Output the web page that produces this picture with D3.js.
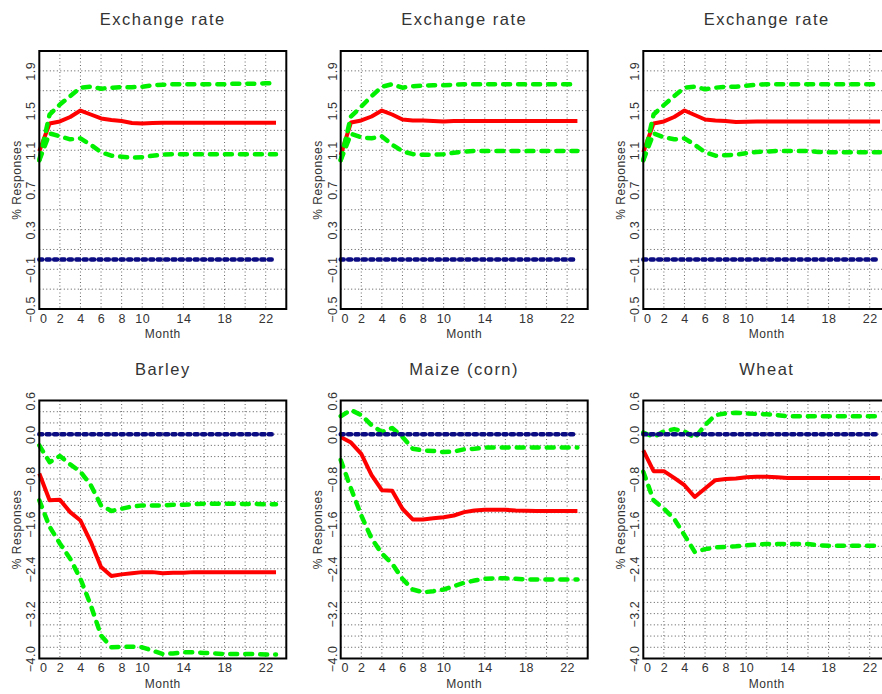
<!DOCTYPE html>
<html>
<head>
<meta charset="utf-8">
<script src="https://cdn.jsdelivr.net/npm/d3@7"></script>
<style>
body { margin: 0; background: #fff; }
text { font-family: "Liberation Sans", "DejaVu Sans", sans-serif; fill: #333; }
</style>
</head>
<body>
<svg id="vis"></svg>
<script>
const WIDTH = 882;
const HEIGHT = 694;

// meses (eje x) y etiquetas
const MONTHS = [0, 1, 2, 3, 4, 5, 6, 7, 8, 9, 10, 11, 12, 13, 14, 15, 16, 17, 18, 19, 20, 21, 22, 23];
const X_TICKS = [0, 2, 4, 6, 8, 10, 14, 18, 22];
const X_GRID = [2, 4, 6, 8, 10, 12, 14, 16, 18, 20, 22];

const Y_TICKS_TOP = [1.9, 1.5, 1.1, 0.7, 0.3, -0.1, -0.5];
const Y_GRID_TOP = [1.9, 1.7, 1.5, 1.3, 1.1, 0.9, 0.7, 0.5, 0.3, 0.1, -0.1, -0.3];
const Y_TICKS_BOTTOM = [0.6, 0.0, -0.8, -1.6, -2.4, -3.2, -4.0];
const Y_GRID_BOTTOM = [0.4, 0.2, 0.0, -0.2, -0.4, -0.6, -0.8, -1.0, -1.2, -1.4, -1.6, -1.8, -2.0,
    -2.2, -2.4, -2.6, -2.8, -3.0, -3.2, -3.4, -3.6, -3.8];

const TITLES = ["Exchange rate", "Exchange rate", "Exchange rate", "Barley", "Maize (corn)", "Wheat"];
const ZERO_LINE = [0, 0, 0, 0, 0, 0, 0, 0, 0, 0, 0, 0, 0, 0, 0, 0, 0, 0, 0, 0, 0, 0, 0, 0];

// Exchange rate (1)
const mid1 = [1.09, 1.37, 1.39, 1.435, 1.50, 1.46, 1.42, 1.405, 1.395, 1.375, 1.37, 1.375, 1.378, 1.378, 1.378, 1.378, 1.378, 1.378, 1.378, 1.378, 1.378, 1.378, 1.378, 1.378];
const hi1 = [1.00, 1.46, 1.56, 1.645, 1.73, 1.74, 1.72, 1.73, 1.735, 1.735, 1.74, 1.755, 1.76, 1.765, 1.765, 1.765, 1.765, 1.765, 1.765, 1.77, 1.77, 1.77, 1.775, 1.775];
const lo1 = [1.00, 1.27, 1.24, 1.21, 1.22, 1.155, 1.08, 1.045, 1.035, 1.025, 1.03, 1.045, 1.055, 1.06, 1.06, 1.06, 1.06, 1.06, 1.06, 1.06, 1.06, 1.06, 1.06, 1.06];

// Exchange rate (2)
const mid2 = [1.05, 1.38, 1.40, 1.44, 1.50, 1.46, 1.41, 1.40, 1.40, 1.395, 1.39, 1.395, 1.395, 1.395, 1.395, 1.395, 1.395, 1.395, 1.395, 1.395, 1.395, 1.395, 1.395, 1.395];
const hi2 = [1.00, 1.44, 1.54, 1.645, 1.74, 1.765, 1.73, 1.745, 1.75, 1.755, 1.755, 1.76, 1.765, 1.765, 1.765, 1.765, 1.765, 1.765, 1.765, 1.765, 1.765, 1.765, 1.765, 1.765];
const lo2 = [1.00, 1.265, 1.23, 1.22, 1.24, 1.155, 1.09, 1.06, 1.055, 1.055, 1.06, 1.075, 1.087, 1.093, 1.093, 1.093, 1.093, 1.093, 1.093, 1.093, 1.093, 1.093, 1.093, 1.093];

// Exchange rate (3)
const mid3 = [1.08, 1.37, 1.39, 1.435, 1.50, 1.455, 1.41, 1.40, 1.395, 1.385, 1.388, 1.39, 1.39, 1.39, 1.39, 1.39, 1.39, 1.39, 1.39, 1.39, 1.39, 1.39, 1.39, 1.39];
const hi3 = [1.00, 1.46, 1.555, 1.645, 1.73, 1.74, 1.715, 1.73, 1.74, 1.74, 1.75, 1.76, 1.765, 1.765, 1.765, 1.765, 1.765, 1.765, 1.765, 1.765, 1.765, 1.765, 1.765, 1.765];
const lo3 = [1.00, 1.27, 1.23, 1.21, 1.22, 1.155, 1.08, 1.045, 1.05, 1.055, 1.07, 1.083, 1.087, 1.093, 1.093, 1.093, 1.093, 1.083, 1.08, 1.08, 1.08, 1.08, 1.08, 1.08];

// Barley
const mid4 = [-0.70, -1.18, -1.17, -1.39, -1.54, -1.92, -2.37, -2.53, -2.50, -2.48, -2.46, -2.46, -2.48, -2.47, -2.47, -2.46, -2.46, -2.46, -2.46, -2.46, -2.46, -2.46, -2.46, -2.46];
const hi4 = [-0.20, -0.50, -0.39, -0.54, -0.67, -0.91, -1.27, -1.37, -1.33, -1.29, -1.27, -1.27, -1.27, -1.26, -1.26, -1.25, -1.24, -1.24, -1.24, -1.24, -1.245, -1.245, -1.25, -1.25];
const lo4 = [-1.18, -1.65, -1.95, -2.22, -2.58, -3.05, -3.59, -3.80, -3.79, -3.79, -3.80, -3.86, -3.92, -3.91, -3.89, -3.89, -3.90, -3.91, -3.92, -3.92, -3.92, -3.92, -3.93, -3.93];

// Maize (corn)
const mid5 = [-0.05, -0.15, -0.35, -0.73, -1.00, -1.01, -1.33, -1.52, -1.52, -1.50, -1.48, -1.45, -1.39, -1.36, -1.35, -1.35, -1.35, -1.36, -1.365, -1.37, -1.37, -1.37, -1.37, -1.37];
const hi5 = [0.32, 0.43, 0.34, 0.16, 0.04, 0.11, -0.05, -0.26, -0.29, -0.30, -0.32, -0.31, -0.27, -0.26, -0.24, -0.24, -0.24, -0.24, -0.24, -0.24, -0.24, -0.24, -0.24, -0.24];
const lo5 = [-0.46, -0.97, -1.45, -1.86, -2.13, -2.31, -2.58, -2.77, -2.82, -2.80, -2.77, -2.71, -2.65, -2.61, -2.58, -2.57, -2.57, -2.58, -2.59, -2.59, -2.59, -2.59, -2.59, -2.59];

// Wheat
const mid6 = [-0.29, -0.66, -0.66, -0.78, -0.91, -1.12, -0.97, -0.82, -0.80, -0.79, -0.77, -0.76, -0.76, -0.77, -0.78, -0.78, -0.78, -0.78, -0.78, -0.78, -0.78, -0.78, -0.78, -0.78];
const hi6 = [0.03, -0.05, 0.05, 0.09, 0.05, -0.07, 0.16, 0.34, 0.37, 0.38, 0.37, 0.36, 0.355, 0.34, 0.32, 0.32, 0.32, 0.32, 0.32, 0.32, 0.32, 0.32, 0.32, 0.32];
const lo6 = [-0.67, -1.18, -1.33, -1.51, -1.80, -2.10, -2.05, -2.02, -2.01, -2.00, -1.98, -1.97, -1.96, -1.96, -1.96, -1.96, -1.96, -1.98, -1.99, -1.99, -1.99, -1.99, -1.99, -1.99];

const COL_X = [39.3, 340.7, 643.3];
const ROW_Y = [51, 400.5];
const PANEL_W = 247;
const PANEL_H = 258;

const svg = d3.select("#vis")
    .attr("width", WIDTH)
    .attr("height", HEIGHT);

svg.append("rect")
    .attr("width", WIDTH)
    .attr("height", HEIGHT)
    .attr("fill", "#fff");

const panels = [
    { title: TITLES[0], mid: mid1, hi: hi1, lo: lo1, row: 0, col: 0 },
    { title: TITLES[1], mid: mid2, hi: hi2, lo: lo2, row: 0, col: 1 },
    { title: TITLES[2], mid: mid3, hi: hi3, lo: lo3, row: 0, col: 2 },
    { title: TITLES[3], mid: mid4, hi: hi4, lo: lo4, row: 1, col: 0 },
    { title: TITLES[4], mid: mid5, hi: hi5, lo: lo5, row: 1, col: 1 },
    { title: TITLES[5], mid: mid6, hi: hi6, lo: lo6, row: 1, col: 2 }
];

function drawPanel(p) {
    const top = p.row === 0;
    const g = svg.append("g")
        .attr("transform", `translate(${COL_X[p.col]}, ${ROW_Y[p.row]})`);

    const escalaX = d3.scaleLinear().domain([0, 24]).range([0, PANEL_W]);
    const escalaY = d3.scaleLinear()
        .domain(top ? [-0.5, 2.1] : [-4.0, 0.6])
        .range([PANEL_H, 0]);

    // rejilla punteada
    g.selectAll(".gx")
        .data(X_GRID)
        .join("line")
        .attr("x1", d => escalaX(d)).attr("x2", d => escalaX(d))
        .attr("y1", 0).attr("y2", PANEL_H)
        .attr("stroke", "#666")
        .attr("stroke-width", 1)
        .attr("stroke-dasharray", "1 2.5");

    g.selectAll(".gy")
        .data(top ? Y_GRID_TOP : Y_GRID_BOTTOM)
        .join("line")
        .attr("x1", 0).attr("x2", PANEL_W)
        .attr("y1", d => escalaY(d)).attr("y2", d => escalaY(d))
        .attr("stroke", "#555")
        .attr("stroke-width", 1)
        .attr("stroke-dasharray", "1 2.5");

    const linea = vals => d3.line()
        .x((d, i) => escalaX(MONTHS[i]))
        .y(d => escalaY(d))(vals);

    g.append("path")
        .attr("d", linea(p.mid))
        .attr("fill", "none")
        .attr("stroke", "#ff0000")
        .attr("stroke-width", 4)
        .attr("stroke-linejoin", "round");

    [p.hi, p.lo].forEach(s => {
        g.append("path")
            .attr("d", linea(s))
            .attr("fill", "none")
            .attr("stroke", "#00f000")
            .attr("stroke-width", 4.5)
            .attr("stroke-linecap", "round")
            .attr("stroke-linejoin", "round")
            .attr("stroke-dasharray", "7 8");
    });

    g.append("path")
        .attr("d", linea(ZERO_LINE))
        .attr("fill", "none")
        .attr("stroke", "#0b0b82")
        .attr("stroke-width", 4.5)
        .attr("stroke-linecap", "round")
        .attr("stroke-dasharray", "3 4.4");

    // marco
    g.append("rect")
        .attr("width", PANEL_W)
        .attr("height", PANEL_H)
        .attr("fill", "none")
        .attr("stroke", "#000")
        .attr("stroke-width", 2);

    // eje x
    const ejeX = d3.axisBottom(escalaX)
        .tickValues(X_TICKS)
        .tickSize(0)
        .tickPadding(5)
        .tickFormat(d3.format("d"));
    const gx = g.append("g")
        .attr("transform", `translate(0, ${PANEL_H})`)
        .call(ejeX);
    gx.select(".domain").remove();
    gx.selectAll("text")
        .attr("font-size", 12.5)
        .attr("letter-spacing", 0.5)
        .attr("font-family", null)
        .attr("fill", "#333");
    gx.selectAll(".tick").filter(d => d === 0).select("text").attr("dx", 4);

    // eje y (etiquetas verticales)
    const ejeY = d3.axisLeft(escalaY)
        .tickValues(top ? Y_TICKS_TOP : Y_TICKS_BOTTOM)
        .tickSize(0)
        .tickFormat(d3.format(".1f"));
    const gy = g.append("g").call(ejeY);
    gy.select(".domain").remove();
    gy.selectAll("text")
        .attr("x", 0)
        .attr("dy", 0)
        .attr("text-anchor", "middle")
        .attr("transform", "translate(-4, 0) rotate(-90)")
        .attr("font-size", 12.5)
        .attr("letter-spacing", 0.5)
        .attr("font-family", null)
        .attr("fill", "#333");

    g.append("text")
        .attr("x", PANEL_W / 2)
        .attr("y", -26)
        .attr("text-anchor", "middle")
        .attr("font-size", 16.5)
        .attr("letter-spacing", 1.5)
        .attr("fill", "#444")
        .text(p.title);

    g.append("text")
        .attr("x", PANEL_W / 2)
        .attr("y", PANEL_H + 29)
        .attr("text-anchor", "middle")
        .attr("font-size", 12)
        .attr("letter-spacing", 0.5)
        .text("Month");

    g.append("text")
        .attr("transform", `translate(-18.5, ${PANEL_H / 2}) rotate(-90)`)
        .attr("text-anchor", "middle")
        .attr("font-size", 12)
        .attr("letter-spacing", 0.5)
        .text("% Responses");
}

panels.forEach(drawPanel);
</script>
</body>
</html>
